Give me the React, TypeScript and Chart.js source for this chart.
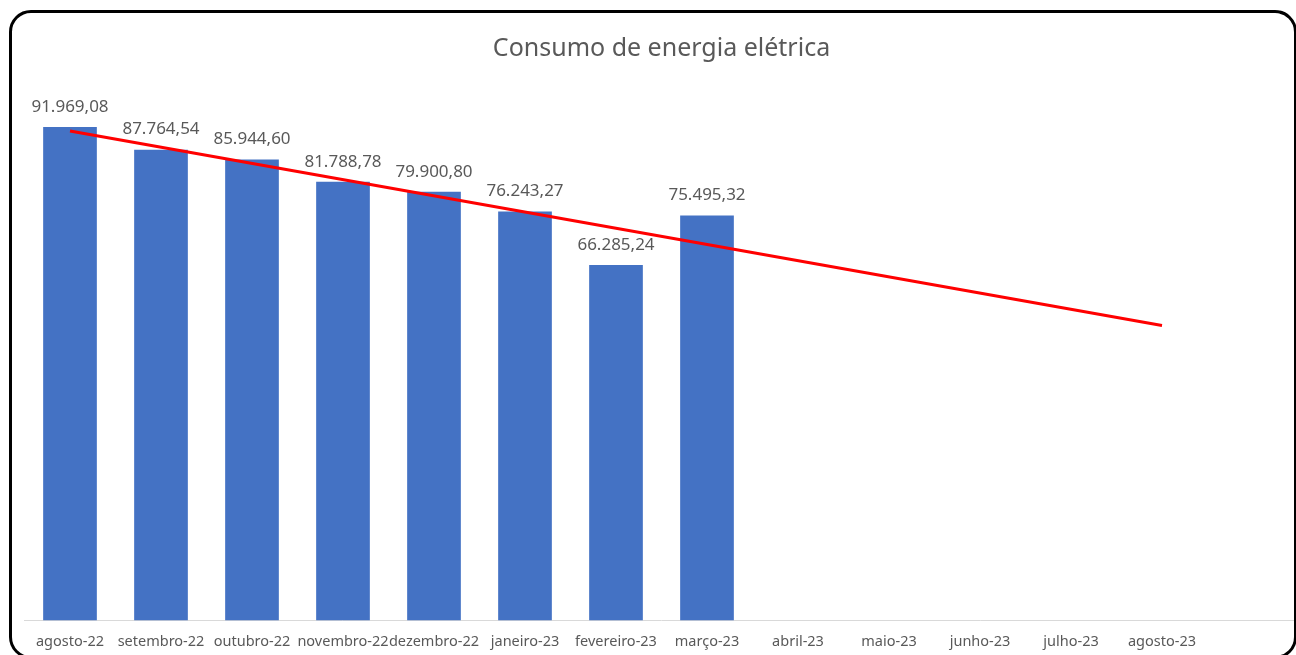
import React, { useEffect, useRef } from "react";
import { Chart, registerables } from "chart.js";

Chart.register(...registerables);

const categories = [
  "agosto-22",
  "setembro-22",
  "outubro-22",
  "novembro-22",
  "dezembro-22",
  "janeiro-23",
  "fevereiro-23",
  "março-23",
  "abril-23",
  "maio-23",
  "junho-23",
  "julho-23",
  "agosto-23",
  "",
];

const consumo = [91969.08, 87764.54, 85944.6, 81788.78, 79900.8, 76243.27, 66285.24, 75495.32];

// Linear trend line endpoints
const tendencia: (number | null)[] = [91245, null, null, null, null, null, null, null, null, null, null, null, 55001, null];

const FONT = "'Noto Sans', 'Open Sans', sans-serif";
const TEXT = "#595959";

function fmtBR(v: number): string {
  const [int, dec] = v.toFixed(2).split(".");
  const withDots = int.replace(/\B(?=(\d{3})+(?!\d))/g, ".");
  return withDots + "," + dec;
}

const labelPlugin = {
  id: "barLabels",
  afterDatasetsDraw(chart: any) {
    const ctx = chart.ctx;
    const meta = chart.getDatasetMeta(1);
    ctx.save();
    ctx.font = `17px ${FONT}`;
    ctx.fillStyle = TEXT;
    ctx.textAlign = "center";
    ctx.textBaseline = "middle";
    meta.data.forEach((bar: any, i: number) => {
      const v = consumo[i];
      if (typeof v !== "number") return;
      ctx.fillText(fmtBR(v), bar.x, bar.y - 20);
    });
    ctx.restore();
  },
};

export default function App() {
  const ref = useRef<HTMLCanvasElement | null>(null);

  useEffect(() => {
    if (!ref.current) return;
    const chart = new Chart(ref.current, {
      type: "bar",
      data: {
        labels: categories,
        datasets: [
          {
            type: "line" as const,
            label: "Tendência",
            data: tendencia,
            borderColor: "#FF0000",
            borderWidth: 3,
            pointRadius: 0,
            spanGaps: true,
            fill: false,
            order: 0,
          } as any,
          {
            type: "bar" as const,
            label: "Consumo",
            data: consumo,
            backgroundColor: "#4472C4",
            barPercentage: 0.59,
            categoryPercentage: 1,
            order: 1,
          },
        ],
      },
      options: {
        responsive: false,
        animation: false,
        devicePixelRatio: 1,
        layout: { padding: { left: 24.5, right: 1.5, top: 34, bottom: 5 } },
        plugins: {
          legend: { display: false },
          tooltip: { enabled: false },
          title: {
            display: true,
            text: "Consumo de energia elétrica",
            color: TEXT,
            font: { family: FONT, size: 25, weight: "normal" as any, lineHeight: 1.2 },
            padding: { top: 0, bottom: 20 },
          },
        },
        scales: {
          x: {
            grid: { display: false, drawTicks: false },
            border: { display: true, color: "#D9D9D9", width: 1 },
            ticks: {
              color: TEXT,
              font: { family: FONT, size: 14.5 },
              autoSkip: false,
              maxRotation: 0,
              minRotation: 0,
              padding: 12.5,
            },
          },
          y: {
            display: false,
            min: 0,
            max: 100000,
          },
        },
      },
      plugins: [labelPlugin],
    });
    return () => chart.destroy();
  }, []);

  return (
    <div
      style={{
        position: "fixed",
        left: 0,
        top: 0,
        width: 1296,
        height: 655,
        overflow: "hidden",
        background: "#fff",
      }}
    >
      <canvas
        ref={ref}
        width={1300}
        height={668}
        style={{ position: "absolute", left: 0, top: 0, width: 1300, height: 668 }}
      />
      <div
        style={{
          position: "absolute",
          left: 9,
          top: 10,
          width: 1288,
          height: 649,
          boxSizing: "border-box",
          border: "3px solid #000",
          borderRadius: 22,
          pointerEvents: "none",
        }}
      />
    </div>
  );
}
